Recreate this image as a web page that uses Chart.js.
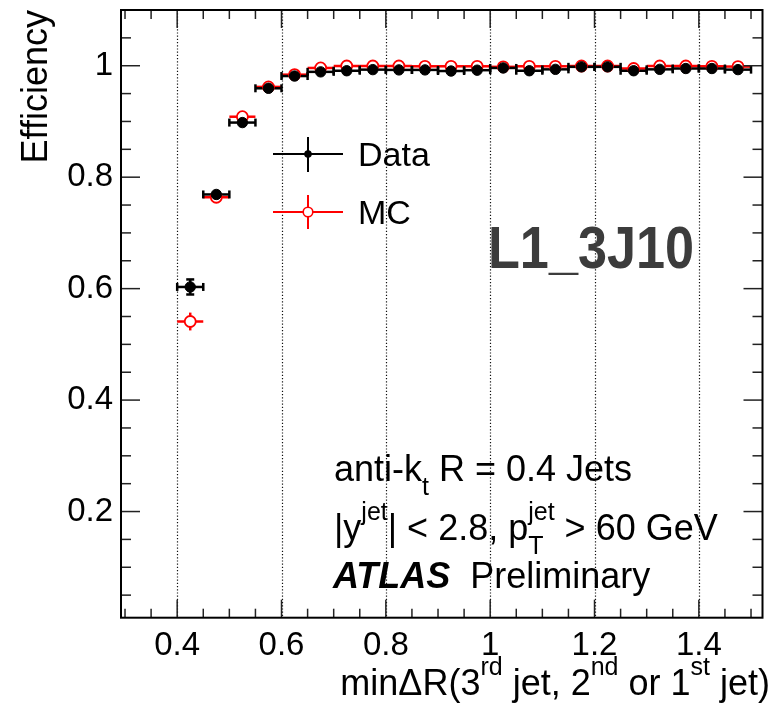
<!DOCTYPE html>
<html>
<head>
<meta charset="utf-8">
<script src="https://cdn.jsdelivr.net/npm/chart.js"></script>
<style>
	html, body { margin:0; padding:0; background:#fff; }
	#wadah { width:781px; height:705px; }
</style>
</head>
<body>
<div id="wadah"><canvas id="grafik" width="781" height="705"></canvas></div>
<script>
// pusat bin minDeltaR, lebar bin 0.05
const binX = [0.425, 0.475, 0.525, 0.575, 0.625, 0.675, 0.725, 0.775, 0.825, 0.875, 0.925, 0.975, 1.025, 1.075, 1.125, 1.175, 1.225, 1.275, 1.325, 1.375, 1.425, 1.475]
const setengahBin = 0.025

const effData = [0.603, 0.769, 0.898, 0.9595, 0.9815, 0.989, 0.991, 0.993, 0.9925, 0.9925, 0.9905, 0.992, 0.996, 0.991, 0.9935, 0.998, 0.998, 0.991, 0.9935, 0.995, 0.995, 0.993]
const errData = [0.0135, 0.005, 0.004, 0.003, 0.002, 0.002, 0.002, 0.002, 0.002, 0.002, 0.002, 0.002, 0.002, 0.002, 0.002, 0.002, 0.002, 0.002, 0.002, 0.002, 0.002, 0.002]

const effMC = [0.541, 0.764, 0.9085, 0.962, 0.984, 0.996, 0.9995, 0.9995, 0.9995, 0.999, 0.999, 0.999, 0.998, 0.999, 0.999, 0.9995, 0.9995, 0.995, 0.9995, 0.9995, 0.999, 0.9985]
const errMC = [0.016, 0.006, 0.003, 0.002, 0.002, 0.001, 0.001, 0.001, 0.001, 0.001, 0.001, 0.001, 0.001, 0.001, 0.001, 0.001, 0.001, 0.001, 0.001, 0.001, 0.001, 0.001]

const tickX = [0.4, 0.6, 0.8, 1, 1.2, 1.4]
const tickY = [0.2, 0.4, 0.6, 0.8, 1]
const minorX = [0.3, 0.35, 0.45, 0.5, 0.55, 0.65, 0.7, 0.75, 0.85, 0.9, 0.95, 1.05, 1.1, 1.15, 1.25, 1.3, 1.35, 1.45, 1.5]
const minorY = [0.05, 0.1, 0.15, 0.25, 0.3, 0.35, 0.45, 0.5, 0.55, 0.65, 0.7, 0.75, 0.85, 0.9, 0.95, 1.05, 1.1]

const huruf = '"Liberation Sans", Arial, Helvetica, sans-serif'

// teks gaya TLatex: potongan biasa, superscript, subscript
const tulis = (ctx, x, y, parts, size, align = 'left') => {
	const fnt = p => `${p.i?'italic ':''}${p.b?'bold ':''}${p.pos?Math.round(size*0.7):size}px ${huruf}`
	const lay = []
	let cx = 0, tahan = 0
	parts.forEach(p => {
		ctx.font = fnt(p)
		const w = ctx.measureText(p.t).width
		lay.push({p, dx:cx})
		if (p.keep) tahan = w
		else { cx += Math.max(w, tahan); tahan = 0 }
	})
	const x0 = align == 'right' ? x - cx : x
	ctx.textAlign = 'left'
	ctx.textBaseline = 'alphabetic'
	lay.forEach(({p, dx}) => {
		ctx.font = fnt(p)
		const dy = p.pos == 'sup' ? -size*0.55 : p.pos == 'sub' ? size*0.38 : 0
		ctx.fillText(p.t, x0 + dx, y + dy)
	})
}

const garis = (ctx, x1, y1, x2, y2) => { ctx.beginPath(); ctx.moveTo(x1, y1); ctx.lineTo(x2, y2); ctx.stroke() }

const gambarError = (c, ex, ey, er, warna, cap) => {
	const {ctx, scales:{x:sx, y:sy}} = c
	ctx.save()
	ctx.strokeStyle = warna
	ctx.lineWidth = 2.5
	ex.forEach((x, i) => {
		const xl = sx.getPixelForValue(x - setengahBin), xr = sx.getPixelForValue(x + setengahBin)
		const xc = sx.getPixelForValue(x), yc = sy.getPixelForValue(ey[i])
		const yt = sy.getPixelForValue(ey[i] + er[i]), yb = sy.getPixelForValue(ey[i] - er[i])
		garis(ctx, xl, yc, xr, yc)
		garis(ctx, xc, yt, xc, yb)
		if (cap) {
			garis(ctx, xl, yc - 4, xl, yc + 4)
			garis(ctx, xr, yc - 4, xr, yc + 4)
			if (yb - yt > 6) {
				garis(ctx, xc - 4, yt, xc + 4, yt)
				garis(ctx, xc - 4, yb, xc + 4, yb)
			}
		}
	})
	ctx.restore()
}

const gayaRoot = {
	id: 'gayaRoot',
	beforeDatasetsDraw: c => {
		const {ctx, chartArea:a, scales:{x:sx}} = c
		ctx.save()
		ctx.strokeStyle = '#111'
		ctx.lineWidth = 1.2
		ctx.setLineDash([1.2, 2])
		tickX.forEach(v => { const px = Math.round(sx.getPixelForValue(v)) + 0.5; garis(ctx, px, a.top, px, a.bottom) })
		ctx.restore()
		gambarError(c, binX, effMC, errMC, '#ff0000', false)
		gambarError(c, binX, effData, errData, '#000000', true)
	},
	afterDatasetsDraw: c => {
		const {ctx, chartArea:a, scales:{x:sx, y:sy}} = c
		ctx.save()
		// ticks di dalam bingkai, keempat sisi
		ctx.strokeStyle = '#222'
		ctx.lineWidth = 1.5
		const tx = (v, L) => { const px = sx.getPixelForValue(v); garis(ctx, px, a.bottom, px, a.bottom - L); garis(ctx, px, a.top, px, a.top + L) }
		const ty = (v, L) => { const py = sy.getPixelForValue(v); garis(ctx, a.left, py, a.left + L, py); garis(ctx, a.right, py, a.right - L, py) }
		tickX.forEach(v => tx(v, 18)); minorX.forEach(v => tx(v, 9))
		tickY.forEach(v => ty(v, 19)); minorY.forEach(v => ty(v, 10))
		ctx.strokeStyle = '#000'
		ctx.lineWidth = 2
		ctx.strokeRect(a.left, a.top, a.right - a.left, a.bottom - a.top)

		// legenda
		ctx.lineWidth = 2
		ctx.strokeStyle = '#000'
		garis(ctx, 273, 154, 343, 154); garis(ctx, 308, 137, 308, 172)
		ctx.fillStyle = '#000'
		ctx.beginPath(); ctx.arc(308, 154, 3.8, 0, Math.PI*2); ctx.fill()
		ctx.strokeStyle = '#ff0000'
		garis(ctx, 273, 212, 343, 212); garis(ctx, 308, 195, 308, 229)
		ctx.lineWidth = 1.6
		ctx.fillStyle = '#fff'
		ctx.beginPath(); ctx.arc(308, 212, 4.8, 0, Math.PI*2); ctx.fill(); ctx.stroke()
		ctx.fillStyle = '#000'
		tulis(ctx, 358, 166, [{t:'Data'}], 34)
		tulis(ctx, 358, 224, [{t:'MC'}], 34)

		// label trigger
		ctx.save()
		ctx.font = `bold 60px ${huruf}`
		const lw = ctx.measureText('L1_3J10').width
		ctx.translate(488, 268)
		ctx.scale(206 / lw, 1)
		ctx.fillStyle = '#3c3c3c'
		ctx.textAlign = 'left'
		ctx.textBaseline = 'alphabetic'
		ctx.fillText('L1_3J10', 0, 0)
		ctx.restore()

		ctx.fillStyle = '#000'
		tulis(ctx, 334, 481, [{t:'anti-k'}, {t:'t', pos:'sub'}, {t:' R = 0.4 Jets'}], 36)
		tulis(ctx, 334, 540, [{t:'|y'}, {t:'jet', pos:'sup'}, {t:'| < 2.8, p'}, {t:'T', pos:'sub', keep:true}, {t:'jet', pos:'sup'}, {t:' > 60 GeV'}], 36)
		tulis(ctx, 333, 588, [{t:'ATLAS', b:true, i:true}, {t:'  Preliminary'}], 36)

		// judul sumbu
		tulis(ctx, 770, 695, [{t:'min\u0394R(3'}, {t:'rd', pos:'sup'}, {t:' jet, 2'}, {t:'nd', pos:'sup'}, {t:' or 1'}, {t:'st', pos:'sup'}, {t:' jet)'}], 36, 'right')
		ctx.save()
		ctx.translate(47, 10)
		ctx.rotate(-Math.PI/2)
		tulis(ctx, 0, 0, [{t:'Efficiency'}], 36, 'right')
		ctx.restore()
		ctx.restore()
	}
}

const labelTick = v => String(+(+v).toFixed(1))

new Chart(document.getElementById('grafik'), {
	type: 'scatter',
	data: {
		datasets: [{
			label: 'Data',
			data: binX.map((x, i) => ({x, y:effData[i]})),
			pointRadius: 5.2,
			pointBackgroundColor: '#000',
			pointBorderColor: '#000',
			pointBorderWidth: 1,
			showLine: false,
		}, {
			label: 'MC',
			data: binX.map((x, i) => ({x, y:effMC[i]})),
			pointRadius: 5.5,
			pointBackgroundColor: '#fff',
			pointBorderColor: '#ff0000',
			pointBorderWidth: 1.8,
			showLine: false,
		}]
	},
	options: {
		responsive: false,
		animation: false,
		devicePixelRatio: 1,
		layout: { padding: { left:0, top:10, right:18.5, bottom:0 } },
		plugins: {
			legend: { display:false },
			tooltip: { enabled:false },
		},
		scales: {
			x: {
				type: 'linear',
				min: 0.2923,
				max: 1.522,
				afterBuildTicks: s => { s.ticks = tickX.map(v => ({value:v})) },
				afterFit: s => { s.height = 87.3; s.paddingLeft = 0; s.paddingRight = 0 },
				grid: { display:false, drawTicks:false },
				border: { display:false },
				ticks: {
					color: '#000',
					font: { size:33, family:huruf },
					padding: 8,
					maxRotation: 0,
					autoSkip: false,
					callback: labelTick,
				}
			},
			y: {
				type: 'linear',
				min: 0.0095,
				max: 1.1,
				afterBuildTicks: s => { s.ticks = tickY.map(v => ({value:v})) },
				afterFit: s => { s.width = 121; s.paddingTop = 0; s.paddingBottom = 0 },
				grid: { display:false, drawTicks:false },
				border: { display:false },
				ticks: {
					color: '#000',
					font: { size:33, family:huruf },
					padding: 8,
					autoSkip: false,
					callback: labelTick,
				}
			}
		}
	},
	plugins: [gayaRoot]
})
</script>
</body>
</html>
